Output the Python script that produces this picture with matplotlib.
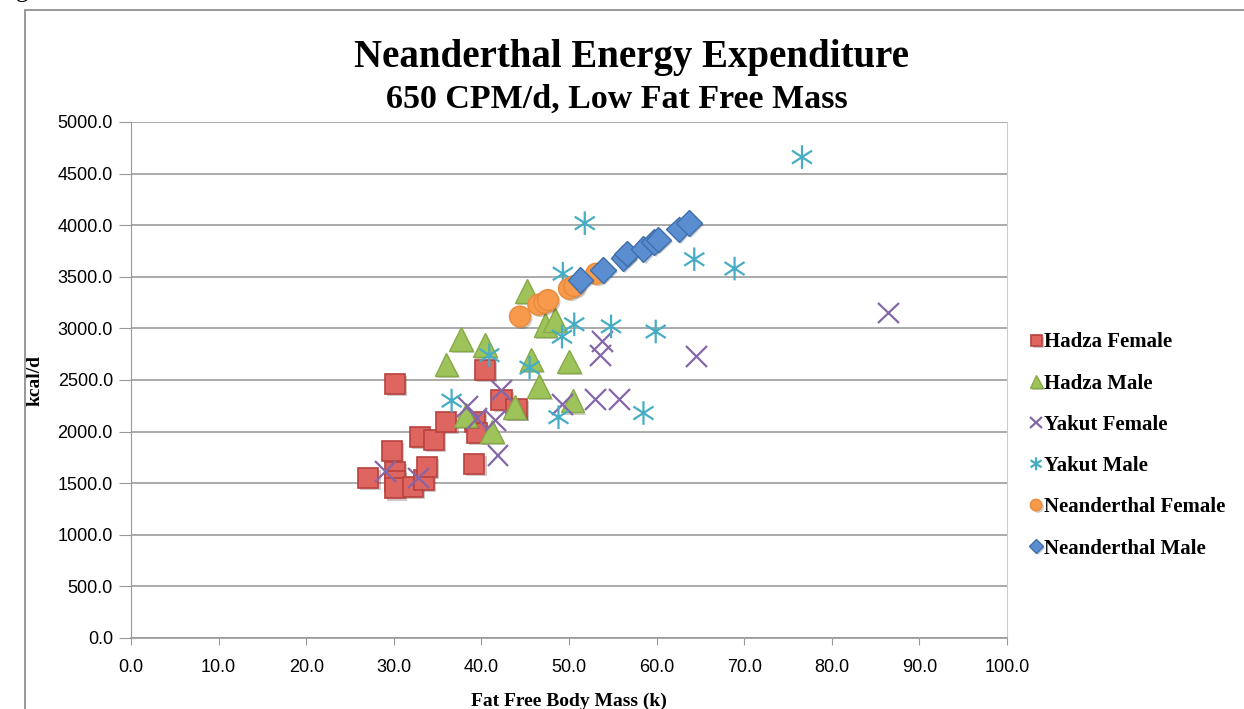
import numpy as np
import matplotlib.pyplot as plt
from matplotlib.path import Path
from matplotlib.patches import Rectangle
import matplotlib.patheffects as pe

# values
hadza_f_x = [27.1, 29.8, 30.1, 30.1, 30.1, 30.1, 32.2, 33.4, 33.8, 33.0, 34.6, 36.0, 39.2, 39.3, 39.5, 40.4, 42.3, 44.0]
hadza_f_y = [1550, 1815, 2460, 1610, 1520, 1450, 1460, 1530, 1660, 1945, 1920, 2096, 1686, 2096, 1990, 2600, 2306, 2216]

hadza_m_x = [45.2, 47.3, 48.4, 37.7, 40.4, 36.0, 45.7, 50.0, 46.6, 50.4, 43.8, 38.2, 41.2]
hadza_m_y = [3360, 3030, 3080, 2900, 2840, 2650, 2700, 2680, 2440, 2300, 2240, 2160, 2000]

yakut_f_x = [29.1, 32.8, 41.9, 38.4, 39.5, 41.6, 42.3, 49.3, 53.8, 53.6, 53.0, 55.8, 64.6, 86.5]
yakut_f_y = [1610, 1550, 1770, 2240, 2130, 2110, 2400, 2260, 2870, 2740, 2310, 2310, 2730, 3150]

yakut_m_x = [36.6, 40.9, 45.5, 48.8, 49.2, 50.6, 54.8, 49.3, 51.8, 64.3, 68.9, 76.6, 59.9, 58.5]
yakut_m_y = [2300, 2740, 2620, 2140, 2920, 3040, 3020, 3530, 4020, 3670, 3580, 4660, 2970, 2180]

nean_f_x = [44.4, 46.5, 47.2, 47.6, 50.0, 50.6, 53.1]
nean_f_y = [3115, 3230, 3250, 3275, 3385, 3410, 3530]

nean_m_x = [51.3, 53.9, 56.2, 56.6, 58.5, 59.7, 60.2, 62.5, 63.7]
nean_m_y = [3470, 3565, 3680, 3725, 3770, 3835, 3860, 3960, 4020]

serif = 'Liberation Serif'
sans = 'Liberation Sans'

# asterisk marker: vertical bar plus a flat X
star = Path([(0, -1), (0, 1), (-0.85, -0.55), (0.85, 0.55), (-0.85, 0.55), (0.85, -0.55)],
            [Path.MOVETO, Path.LINETO] * 3)

fig = plt.figure(figsize=(12.44, 7.09), dpi=100)
ax = fig.add_axes([131 / 1244, 1 - 638 / 709, (1007 - 131) / 1244, (638 - 122) / 709])

shadow = [pe.SimplePatchShadow(offset=(1.5, -1.5), alpha=0.25), pe.Normal()]
ax.plot(hadza_f_x, hadza_f_y, 's', ms=14.5, mfc='#DE6560', mec='#B9413D', mew=1.2,
        label='Hadza Female', path_effects=shadow, zorder=3)
ax.plot(hadza_m_x, hadza_m_y, '^', ms=17, mfc='#9DC35A', mec='#86AB46', mew=1.0,
        label='Hadza Male', path_effects=shadow, zorder=3)
ax.plot(yakut_f_x, yakut_f_y, 'x', ms=15, mec='#8467A8', mew=1.6,
        label='Yakut Female', path_effects=shadow, zorder=3)
ax.plot(yakut_m_x, yakut_m_y, marker=star, ls='none', ms=17, mec='#46ADC4', mew=1.6,
        label='Yakut Male', path_effects=shadow, zorder=3)
ax.plot(nean_f_x, nean_f_y, 'o', ms=15, mfc='#F79A4C', mec='#E88A3C', mew=1.0,
        label='Neanderthal Female', path_effects=shadow, zorder=3)
ax.plot(nean_m_x, nean_m_y, 'D', ms=13, mfc='#5B8ED0', mec='#3F6FAA', mew=1.0,
        label='Neanderthal Male', path_effects=shadow, zorder=3)

ax.set_xlim(0, 100)
ax.set_ylim(0, 5000)
ax.set_xticks(np.arange(0, 101, 10))
ax.set_yticks(np.arange(0, 5001, 500))
ax.set_xticklabels([f'{v:.1f}' for v in np.arange(0, 101, 10)], fontfamily=sans, fontsize=13)
ax.set_yticklabels([f'{v:.1f}' for v in np.arange(0, 5001, 500)], fontfamily=sans, fontsize=13)
ax.tick_params(axis='x', direction='out', length=5, color='#999999', pad=10)
ax.tick_params(axis='y', direction='out', length=9, color='#999999', pad=4)
ax.grid(axis='y', color='#aaaaaa', lw=1.4)
ax.set_axisbelow(True)
ax.spines['top'].set_visible(False)
ax.spines['left'].set_color('#999999')
ax.spines['bottom'].set_color('#999999')
ax.spines['right'].set_color('#cccccc')
ax.spines['bottom'].set_linewidth(1.2)

ax.set_xlabel('Fat Free Body Mass (k)', fontfamily=serif, fontweight='bold', fontsize=14, labelpad=12)
ax.set_ylabel('kcal/d', fontfamily=serif, fontweight='bold', fontsize=14, labelpad=10)

fig.text(631 / 1244, 1 - 58 / 709, 'Neanderthal Energy Expenditure', fontfamily=serif,
         fontweight='bold', fontsize=28, ha='center', va='center')
fig.text(617 / 1244, 1 - 99 / 709, '650 CPM/d, Low Fat Free Mass', fontfamily=serif,
         fontweight='bold', fontsize=24.5, ha='center', va='center')

# outer frame of the pasted chart, cut off at the right and bottom
fig.patches.append(Rectangle((25 / 1244, -0.1), 1.2, 1 - 10 / 709 + 0.1, transform=fig.transFigure,
                             fill=False, ec='#888888', lw=1.2))
fig.text(-0.004, 1 + 0.012, 'Figure 2.', fontfamily=serif, fontsize=18, ha='left', va='center')

leg = fig.legend(loc='upper left', bbox_to_anchor=(1022 / 1244, 1 - 324 / 709), frameon=False,
                 prop={'family': serif, 'weight': 'bold', 'size': 15}, handlelength=0.55,
                 handletextpad=0.1, labelspacing=1.02, markerscale=0.55, borderaxespad=0)

fig.savefig('out.png', dpi=100)
